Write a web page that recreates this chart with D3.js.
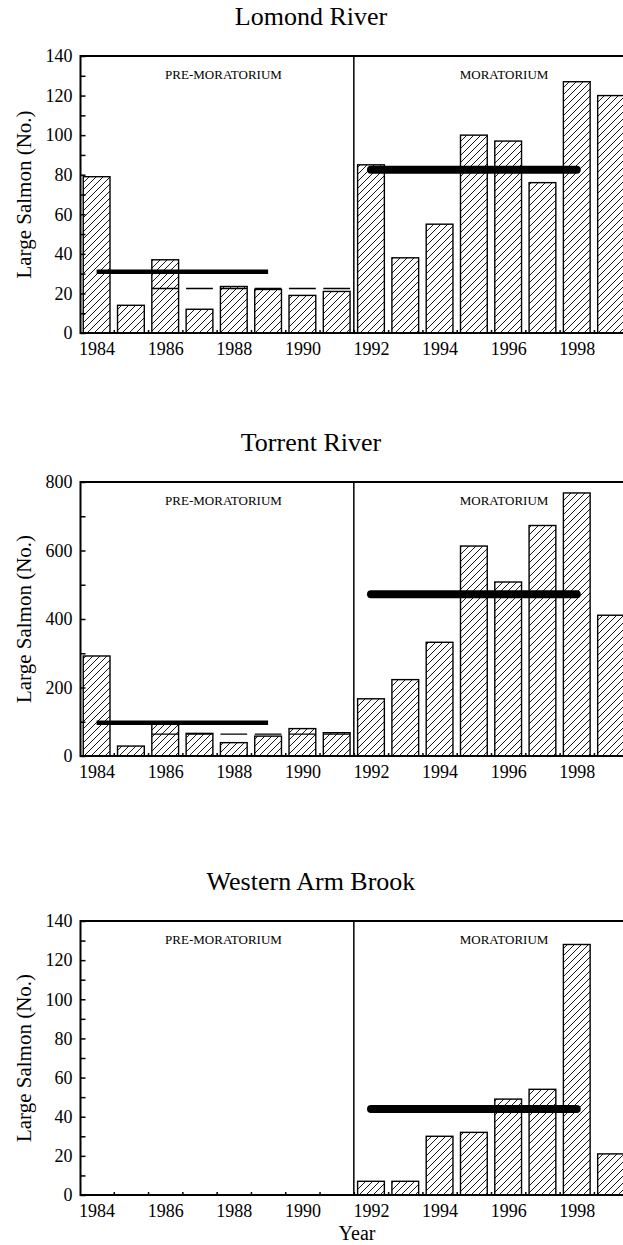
<!DOCTYPE html>
<html>
<head>
<meta charset="utf-8">
<script src="https://cdn.jsdelivr.net/npm/d3@7"></script>
<style>
  body { margin: 0; background: #fff; }
  svg text { font-family: "Liberation Serif", "Times New Roman", "DejaVu Serif", serif; fill: #000; }
</style>
</head>
<body>
<div id="chart"></div>
<script>
// data
const years = [1984, 1985, 1986, 1987, 1988, 1989, 1990, 1991, 1992, 1993, 1994, 1995, 1996, 1997, 1998, 1999];
const lomondSalmon = [79, 14, 37, 12, 23.5, 22, 19, 21, 85, 38, 55, 100, 97, 76, 127, 120];
const torrentSalmon = [292, 29, 93, 66, 39, 58, 80, 68, 167, 223, 332, 613, 508, 673, 768, 411];
const westernArmSalmon = [0, 0, 0, 0, 0, 0, 0, 0, 7, 7, 30, 32, 49, 54, 128, 21];

// mean lines: [pre-moratorium 1984-89, 1986-91 (dashed), moratorium 1992-98]
const meanSpans = [[1984, 1989], [1986, 1991], [1992, 1998]];
const lomondMeans = [31, 22.5, 82.5];
const torrentMeans = [97, 64, 472];
const westernArmMeans = [null, null, 44];

const rivers = ["Lomond River", "Torrent River", "Western Arm Brook"];
const periods = ["PRE-MORATORIUM", "MORATORIUM"];
const yearLabels = [1984, 1986, 1988, 1990, 1992, 1994, 1996, 1998];
const ticks140 = [0, 20, 40, 60, 80, 100, 120, 140];
const minor140 = [10, 30, 50, 70, 90, 110, 130];
const ticks800 = [0, 200, 400, 600, 800];
const minor800 = [100, 300, 500, 700];

const width = 623, height = 1245;

const svg = d3.select("#chart").append("svg")
    .attr("width", width)
    .attr("height", height)
    .attr("viewBox", [0, 0, width, height])
    .style("display", "block");

svg.append("defs").append("pattern")
    .attr("id", "hatch")
    .attr("patternUnits", "userSpaceOnUse")
    .attr("width", 7)
    .attr("height", 7)
  .append("path")
    .attr("d", "M-1,1 L1,-1 M0,7 L7,0 M6,8 L8,6")
    .attr("stroke", "#000")
    .attr("stroke-width", 0.9);

// shared x scale (year -> bar centre)
const x = d3.scaleLinear([1983.53, 1999.5], [80.5, 628.2]);
const step = x(1985) - x(1984);
const barWidth = step * 0.78;

function SalmonPanel(values, {
  title,
  top,
  bottom,
  yMax,
  yTicks,
  yMinor,
  means,
} = {}) {
  const y = d3.scaleLinear([0, yMax], [bottom, top]);
  const g = svg.append("g");

  // title
  g.append("text")
      .attr("x", 311)
      .attr("y", top - 31)
      .attr("text-anchor", "middle")
      .attr("font-size", 26)
      .text(title);

  // bars
  g.append("g")
    .selectAll("rect")
    .data(years)
    .join("rect")
      .attr("x", (d) => x(d) - barWidth / 2)
      .attr("y", (d, i) => y(values[i]))
      .attr("width", barWidth)
      .attr("height", (d, i) => y(0) - y(values[i]))
      .attr("fill", "url(#hatch)")
      .attr("stroke", "#000")
      .attr("stroke-width", 1.4);

  // mean lines
  const [pre, mid, mor] = means;
  if (pre != null) {
    g.append("line")
        .attr("x1", x(meanSpans[0][0]))
        .attr("x2", x(meanSpans[0][1]))
        .attr("y1", y(pre))
        .attr("y2", y(pre))
        .attr("stroke", "#000")
        .attr("stroke-width", 4.5);
  }
  if (mid != null) {
    g.append("line")
        .attr("x1", x(meanSpans[1][0]) - barWidth / 2)
        .attr("x2", x(meanSpans[1][1]) + barWidth / 2)
        .attr("y1", y(mid))
        .attr("y2", y(mid))
        .attr("stroke", "#000")
        .attr("stroke-width", 1.4)
        .attr("stroke-dasharray", `${barWidth},${step - barWidth}`);
  }
  if (mor != null) {
    g.append("line")
        .attr("x1", x(meanSpans[2][0]))
        .attr("x2", x(meanSpans[2][1]))
        .attr("y1", y(mor))
        .attr("y2", y(mor))
        .attr("stroke", "#000")
        .attr("stroke-width", 8)
        .attr("stroke-linecap", "round");
  }

  // y axis, ticks pointing inward
  g.append("g")
      .attr("transform", `translate(${x.range()[0]},0)`)
      .call(d3.axisLeft(y).tickValues(yTicks).tickSize(-5).tickPadding(8))
      .call((a) => a.select(".domain").remove())
      .call((a) => a.selectAll(".tick line").attr("stroke-width", 1.5))
      .call((a) => a.selectAll("text").attr("font-size", 18));
  g.append("g")
      .attr("transform", `translate(${x.range()[0]},0)`)
      .call(d3.axisLeft(y).tickValues(yMinor).tickSize(-5).tickFormat(""))
      .call((a) => a.select(".domain").remove())
      .call((a) => a.selectAll(".tick line").attr("stroke-width", 1.5));

  // x axis: labels every second year, small ticks between years
  g.append("g")
      .attr("transform", `translate(0,${bottom})`)
      .call(d3.axisBottom(x).tickValues(yearLabels).tickSize(0).tickPadding(9).tickFormat(d3.format("d")))
      .call((a) => a.select(".domain").remove())
      .call((a) => a.selectAll("text").attr("font-size", 18));
  g.append("g")
      .attr("transform", `translate(0,${bottom})`)
      .call(d3.axisBottom(x).tickValues(years.slice(0, -1).map((d) => d + 0.5)).tickSize(-3).tickFormat(""))
      .call((a) => a.select(".domain").remove())
      .call((a) => a.selectAll(".tick line").attr("stroke-width", 1.5));

  // frame
  const [x0, x1] = x.range();
  g.append("path")
      .attr("d", `M${x1},${top}H${x0}V${bottom}H${x1}`)
      .attr("fill", "none")
      .attr("stroke", "#000")
      .attr("stroke-width", 2);

  // moratorium divider
  g.append("line")
      .attr("x1", x(1991.5))
      .attr("x2", x(1991.5))
      .attr("y1", top)
      .attr("y2", bottom)
      .attr("stroke", "#000")
      .attr("stroke-width", 1.5);

  g.append("text")
      .attr("x", x(1987.7))
      .attr("y", top + 23)
      .attr("text-anchor", "middle")
      .attr("font-size", 13)
      .text(periods[0]);
  g.append("text")
      .attr("x", x(1995.88))
      .attr("y", top + 23)
      .attr("text-anchor", "middle")
      .attr("font-size", 13)
      .text(periods[1]);

  // y label
  g.append("text")
      .attr("transform", `translate(31,${(top + bottom) / 2}) rotate(-90)`)
      .attr("text-anchor", "middle")
      .attr("font-size", 21)
      .text("Large Salmon (No.)");
}

SalmonPanel(lomondSalmon, {
  title: rivers[0], top: 56, bottom: 333,
  yMax: 140, yTicks: ticks140, yMinor: minor140, means: lomondMeans,
});
SalmonPanel(torrentSalmon, {
  title: rivers[1], top: 482, bottom: 756,
  yMax: 800, yTicks: ticks800, yMinor: minor800, means: torrentMeans,
});
SalmonPanel(westernArmSalmon, {
  title: rivers[2], top: 921, bottom: 1195,
  yMax: 140, yTicks: ticks140, yMinor: minor140, means: westernArmMeans,
});

svg.append("text")
    .attr("x", 357)
    .attr("y", 1240)
    .attr("text-anchor", "middle")
    .attr("font-size", 20)
    .text("Year");
</script>
</body>
</html>
